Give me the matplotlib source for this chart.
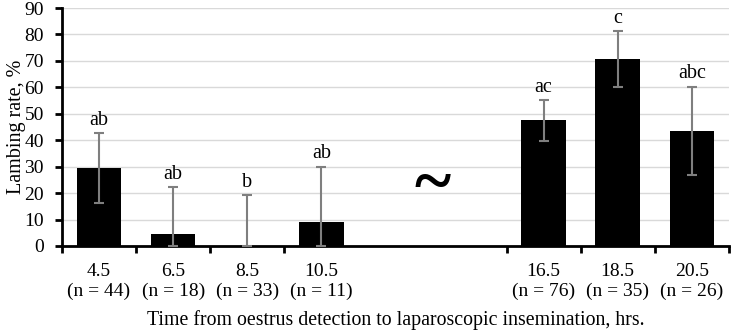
import matplotlib
matplotlib.use("Agg")
import matplotlib.pyplot as plt
import numpy as np

plt.rcParams['font.family'] = ['Liberation Serif', 'DejaVu Serif']

# data (two empty slots where the axis is broken)
hours = ["4.5", "6.5", "8.5", "10.5", "", "", "16.5", "18.5", "20.5"]
n_counts = [44, 18, 33, 11, None, None, 76, 35, 26]
rate = [29.4, 4.4, 0, 9.1, np.nan, np.nan, 47.6, 70.8, 43.4]
err_low = [16.4, 0, 0, 0, np.nan, np.nan, 39.8, 60.3, 26.7]
err_high = [42.6, 22.2, 19.3, 30.0, np.nan, np.nan, 55.2, 81.4, 60.3]
letters = ["ab", "ab", "b", "ab", "", "", "ac", "c", "abc"]
# category boundaries that carry a tick mark (none inside the break)
tick_edges = [-0.5, 0.5, 1.5, 2.5, 5.5, 6.5, 7.5, 8.5]


def make_labels():
    labels = []
    for h, n in zip(hours, n_counts):
        if n is None:
            labels.append("")
        else:
            labels.append(f"{h}\n(n = {n})")
    return labels


def main():
    fig = plt.figure(figsize=(7.31, 3.34), dpi=100)
    ax = fig.add_axes([0.0848, 0.2635, 0.9122, 0.7125])

    x = np.arange(len(hours))
    r = np.array(rate)
    lo = r - np.array(err_low)
    hi = np.array(err_high) - r

    ax.bar(x, r, width=0.6, color="black", zorder=2)
    ax.errorbar(x, r, yerr=[lo, hi], fmt="none", ecolor="#7f7f7f",
                elinewidth=1.5, capsize=3.5, capthick=1.5, zorder=3)

    for xi, top, lab in zip(x, err_high, letters):
        if lab:
            ax.text(xi, top + 1.2, lab, ha="center", va="bottom", fontsize=14.5)

    # axis break mark
    ax.text(4.5, 22.5, "~", ha="center", va="center", fontsize=50,
            fontweight="bold")

    ax.set_xlim(-0.5, len(hours) - 0.5)
    ax.set_ylim(0, 90)
    ax.set_yticks(range(0, 91, 10))
    ax.yaxis.grid(True, color="#d9d9d9", linewidth=1)
    ax.set_axisbelow(True)

    ax.set_xticks(x)
    ax.set_xticklabels(make_labels(), fontsize=14, linespacing=1.25)
    ax.set_xticks(tick_edges, minor=True)
    ax.tick_params(axis="x", which="major", length=0, pad=12)
    ax.tick_params(axis="x", which="minor", length=5, width=2, direction="out")
    ax.tick_params(axis="y", length=5, width=2, labelsize=14, pad=8)

    for s in ["top", "right"]:
        ax.spines[s].set_visible(False)
    ax.spines["left"].set_linewidth(2)
    ax.spines["bottom"].set_linewidth(2)

    ax.set_ylabel("Lambing rate, %", fontsize=14.5, labelpad=-1)
    ax.set_xlabel("Time from oestrus detection to laparoscopic insemination, hrs.",
                  fontsize=14.3, labelpad=7)

    fig.savefig("out.png", dpi=100)


main()
